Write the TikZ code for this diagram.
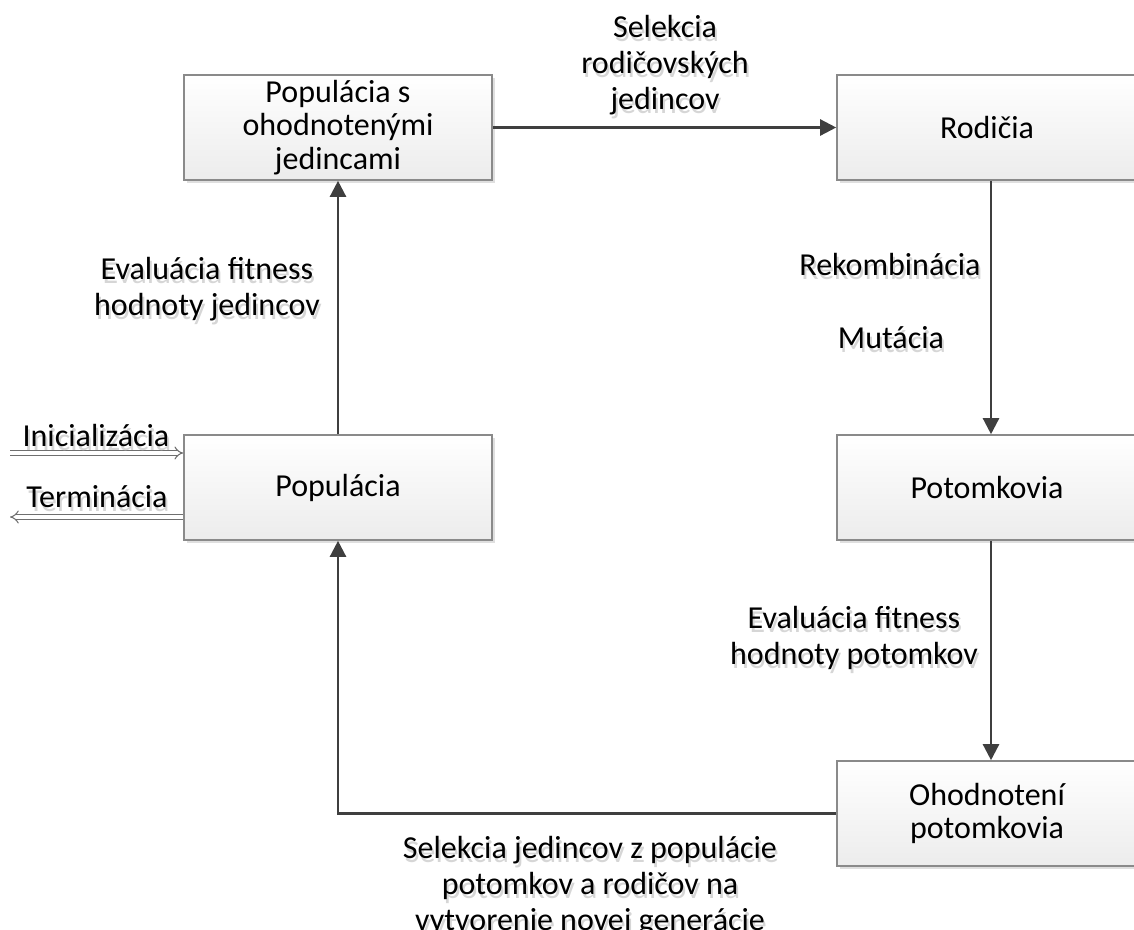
\documentclass[tikz,border=0pt]{standalone}
\usepackage{fontspec}
\setmainfont{Carlito}
\usetikzlibrary{arrows.meta,shadows,calc}

\definecolor{flowline}{HTML}{3F3F3F}
\definecolor{frameline}{HTML}{8A8A8A}
\definecolor{fadebottom}{HTML}{ECECEC}
\definecolor{ghost}{HTML}{D6D6D6}

\tikzset{
  stage/.style={draw=frameline, line width=1.2pt, top color=white,
    bottom color=fadebottom, minimum height=105*0.75pt, inner sep=0pt,
    align=center, font=\fontsize{24pt}{25pt}\selectfont,
    drop shadow={shadow xshift=2pt, shadow yshift=-2.5pt, opacity=0.25, fill=gray}},
  % multi-line labels sit on the baseline of their last line
  lbl/.style={align=center, inner sep=0pt, anchor=base,
    font=\fontsize{24pt}{27pt}\selectfont},
  flow/.style={draw=flowline, line width=1.8pt,
    -{Triangle[length=12pt,width=12pt]}},
  hollow/.style={draw=flowline!75, line width=0.8pt, double=white,
    double distance=2.6pt, -{Implies}},
}

% text with a faint reflected copy underneath
\newcommand\shadedlabel[3]{%
  \node[lbl, text=ghost] (#1-ghost) at ([shift={(2,4)}]#2) {#3};
  \node[lbl] (#1) at (#2) {#3};
}

\begin{document}
\begin{tikzpicture}[x=0.75pt,y=-0.75pt]
\useasboundingbox (0,0) rectangle (1134,929);
\begin{scope}
\clip (0,0) rectangle (1134,929);

% process stages
\node[stage, minimum width=308*0.75pt] (evaluated) at (338,127.5)
  {Populácia s\\ohodnotenými\\jedincami};
\node[stage, minimum width=300*0.75pt] (parents) at (987,127.5) {Rodičia};
\node[stage, minimum width=300*0.75pt] (offspring) at (987,487.5) {Potomkovia};
\node[stage, minimum width=300*0.75pt] (ratedoff) at (987,813.5)
  {Ohodnotení\\potomkovia};
\node[stage, minimum width=308*0.75pt] (population) at (338,487.5) {Populácia};

% column of the right-hand arrows
\coordinate (rcol) at (991,0);

% main cycle
\draw[flow] (evaluated.east) -- (parents.west);
\draw[flow] (parents.south -| rcol) -- (offspring.north -| rcol);
\draw[flow] (offspring.south -| rcol) -- (ratedoff.north -| rcol);
\draw[flow] (ratedoff.west) -| (population.south);
\draw[flow] (population.north) -- (evaluated.south);

% entry and exit of the loop
\coordinate (initstart) at (10,453);
\coordinate (termend) at (10,517);
\draw[hollow] (initstart) -- (initstart -| population.west);
\draw[hollow] (termend -| population.west) -- (termend);

% labels
\shadedlabel{selpar}{665,109}{Selekcia\\rodičovských\\jedincov}
\shadedlabel{evalind}{207,315}{Evaluácia fitness\\hodnoty jedincov}
\shadedlabel{recomb}{890,275}{Rekombinácia}
\shadedlabel{mutation}{891,348}{Mutácia}
\shadedlabel{evaloff}{854,664}{Evaluácia fitness\\hodnoty potomkov}
\shadedlabel{selnew}{590,930}{Selekcia jedincov z populácie\\potomkov a rodičov na\\vytvorenie novej generácie}
\shadedlabel{init}{96,446}{Inicializácia}
\shadedlabel{term}{97,507}{Terminácia}
\end{scope}
\end{tikzpicture}
\end{document}
